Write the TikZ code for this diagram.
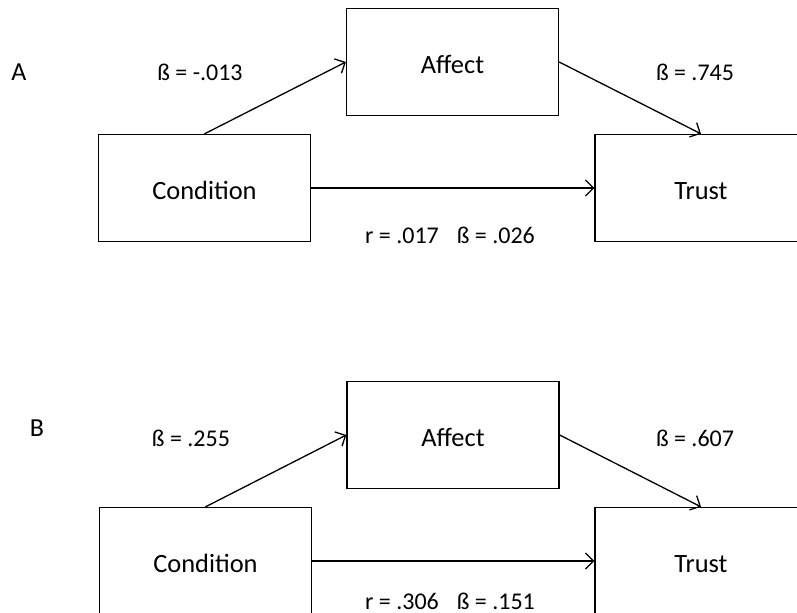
\documentclass[tikz,border=0pt]{standalone}
\usepackage{fontspec}
\setmainfont{Carlito}
\usetikzlibrary{arrows.meta}

\begin{document}
\begin{tikzpicture}[x=0.5pt, y=-0.5pt, line width=0.65pt,
	arrows={-Straight Barb[length=4pt,width=8pt]},
	box/.style={draw, minimum width=106pt, minimum height=53.5pt, inner sep=0pt, text height=1.15em, font=\fontsize{13.2}{16}\selectfont},
	coef/.style={font=\fontsize{12}{14}\selectfont},
	panel/.style={font=\fontsize{13}{16}\selectfont}]
	\useasboundingbox (0,0) rectangle (797,613);

	% panel A
	\node [panel] (labA) at (19,72) {A};
	\node [box] (condA) at (204.5,188) {Condition};
	\node [box] (affA) at (452.5,62) {Affect};
	\node [box] (trustA) at (701,188) {Trust};
	\node [coef] (ca1) at (200,72) {ß = -.013};
	\node [coef] (ca2) at (695,72) {ß = .745};
	\node [coef] (ca3) at (450,235) {r = .017\hspace{0.75em}ß = .026};

	\draw (condA.north) to (affA.west);
	\draw (affA.east) to (trustA.north);
	\draw (condA.east) to (trustA.west);

	% panel B
	\node [panel] (labB) at (37,428) {B};
	\node [box] (condB) at (205.5,561) {Condition};
	\node [box] (affB) at (453,435) {Affect};
	\node [box] (trustB) at (701,561) {Trust};
	\node [coef] (cb1) at (191,438) {ß = .255};
	\node [coef] (cb2) at (695,438) {ß = .607};
	\node [coef] (cb3) at (450,601) {r = .306\hspace{0.75em}ß = .151};

	\draw (condB.north) to (affB.west);
	\draw (affB.east) to (trustB.north);
	\draw (condB.east) to (trustB.west);
\end{tikzpicture}
\end{document}
